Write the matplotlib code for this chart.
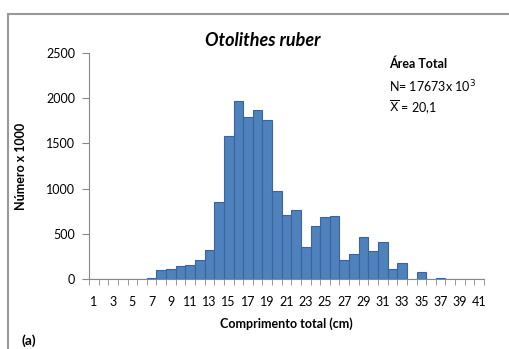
import numpy as np
import matplotlib
matplotlib.use('Agg')
import matplotlib.pyplot as plt
from matplotlib.lines import Line2D

# Comprimento total (cm) classes and counts (x 1000)
classes = list(range(1, 42))
counts = [0, 0, 0, 0, 0, 0, 15, 103, 115, 140, 152, 207, 318, 850, 1582,
          1973, 1796, 1874, 1759, 976, 713, 761, 355, 584, 684, 698, 207,
          281, 469, 307, 410, 115, 181, 0, 81, 0, 15, 0, 0, 0, 0]
tick_labels = [str(c) for c in classes if c % 2 == 1]
y_ticks = [0, 500, 1000, 1500, 2000, 2500]

plt.rcParams['font.family'] = ['Lato', 'DejaVu Sans']

fig = plt.figure(figsize=(5.1, 3.49), dpi=100)
ax = fig.add_axes([0.1745, 0.2006, 0.7745, 0.6474])

ax.bar(classes, counts, width=1.0, color='#4F81BD', edgecolor='#3B649A', linewidth=0.8)

ax.set_xlim(0.5, 41.5)
ax.set_ylim(0, 2500)
ax.set_yticks(y_ticks)
ax.set_xticks([c for c in classes if c % 2 == 1])
ax.set_xticklabels(tick_labels)
ax.set_xticks(np.arange(0.5, 42, 1), minor=True)
ax.tick_params(axis='x', which='major', length=0, pad=12, labelsize=9)
ax.tick_params(axis='x', which='minor', length=4, color='#888888', direction='out')
ax.tick_params(axis='y', length=5, color='#888888', labelsize=9, pad=5)

for s in ['top', 'right']:
    ax.spines[s].set_visible(False)
for s in ['left', 'bottom']:
    ax.spines[s].set_color('#888888')

ax.set_xlabel('Comprimento total (cm)', fontsize=9, fontweight='bold', labelpad=7)
ax.set_ylabel('Número x 1000', fontsize=9, fontweight='bold', labelpad=14)
fig.text(0.516, 0.885, 'Otolithes ruber', fontsize=13, fontweight='bold',
         style='italic', ha='center', va='center')

fig.text(0.763, 0.817, 'Área Total', fontsize=9, fontweight='bold', va='center')
fig.text(0.763, 0.752, r'N= 17673x 10$^3$', fontsize=9, va='center')
fig.text(0.763, 0.693, r'$\overline{\mathrm{X}}$ = 20,1', fontsize=9, va='center')
fig.text(0.043, 0.025, '(a)', fontsize=10, fontweight='bold', va='center')

# chart area border (top and left edges visible in the crop)
fig.add_artist(Line2D([8 / 510, 8 / 510], [0, 1 - 14 / 349], color='#999999', lw=1.5))
fig.add_artist(Line2D([8 / 510, 1], [1 - 14 / 349, 1 - 14 / 349], color='#999999', lw=1.5))

plt.savefig('out.png', dpi=100)
